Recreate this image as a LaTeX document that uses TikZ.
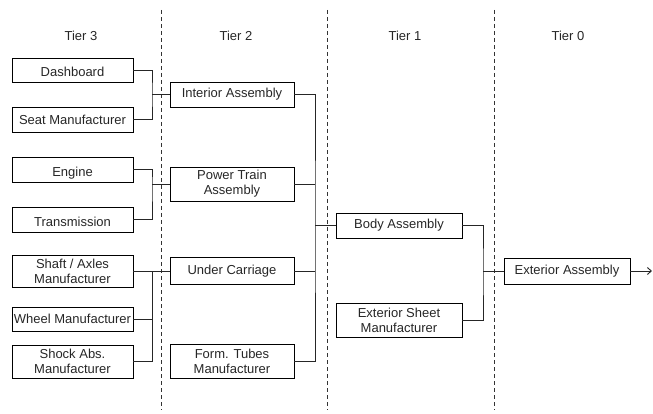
\documentclass[tikz,border=0pt]{standalone}
\usepackage{fontspec}
\setmainfont{Liberation Sans}
\usetikzlibrary{arrows.meta}
\tikzset{
  box/.style={draw=black, line width=0.9pt, rectangle, inner sep=0pt, align=center,
    font=\fontsize{13}{15}\selectfont, text=black!85},
  lowtext/.style={text height=14pt, text depth=0pt},
  tierlabel/.style={inner sep=0pt, font=\fontsize{13}{15}\selectfont, text=black!85},
  conn/.style={line width=0.9pt, draw=black!85},
  tierline/.style={line width=0.7pt, draw=black!80, dash pattern=on 4pt off 3pt}
}
\begin{document}
\begin{tikzpicture}[x=1pt,y=-1pt]
\useasboundingbox (0,0) rectangle (653,414);
% tier separators
\coordinate (d1t) at (161,10); \coordinate (d1b) at (161,410);
\coordinate (d2t) at (327,10); \coordinate (d2b) at (327,410);
\coordinate (d3t) at (494,10); \coordinate (d3b) at (494,410);
\draw[tierline] (d1t) -- (d1b);
\draw[tierline] (d2t) -- (d2b);
\draw[tierline] (d3t) -- (d3b);
% tier labels
\node[tierlabel] (t3) at (81,36) {Tier 3};
\node[tierlabel] (t2) at (236,36) {Tier 2};
\node[tierlabel] (t1) at (405,36) {Tier 1};
\node[tierlabel] (t0) at (568,36) {Tier 0};
% tier 3 boxes
\node[box, lowtext, minimum width=121pt, minimum height=24pt] (dash) at (72.5,70) {Dashboard};
\node[box, minimum width=121pt, minimum height=25pt] (seat) at (72.5,119.5) {Seat Manufacturer};
\node[box, lowtext, minimum width=121pt, minimum height=25pt] (eng) at (72.5,169.5) {Engine};
\node[box, lowtext, minimum width=121pt, minimum height=25pt] (trans) at (72.5,219.5) {Transmission};
\node[box, minimum width=121pt, minimum height=32pt] (shaft) at (72.5,271) {Shaft / Axles\\Manufacturer};
\node[box, minimum width=121pt, minimum height=24pt] (wheel) at (72.5,319) {Wheel Manufacturer};
\node[box, minimum width=121pt, minimum height=33pt] (shock) at (72.5,361.5) {Shock Abs.\\Manufacturer};
% tier 2 boxes
\node[box, minimum width=124pt, minimum height=25pt] (int) at (232,94.5) {Interior Assembly};
\node[box, minimum width=124pt, minimum height=34pt] (pt) at (232,184) {Power Train\\Assembly};
\node[box, minimum width=124pt, minimum height=27pt] (uc) at (232,271) {Under Carriage};
\node[box, minimum width=124pt, minimum height=34pt] (ft) at (232,361) {Form. Tubes\\Manufacturer};
% tier 1 boxes
\node[box, minimum width=126pt, minimum height=25pt] (body) at (399,225.5) {Body Assembly};
\node[box, minimum width=126pt, minimum height=34pt] (es) at (399,320) {Exterior Sheet\\Manufacturer};
% tier 0 box
\node[box, minimum width=126pt, minimum height=26pt] (ea) at (567,271) {Exterior Assembly};
% junctions
\coordinate (b1) at (152,94.5);
\coordinate (b2) at (152,184);
\coordinate (b3) at (152,271);
\coordinate (c4) at (315,225.5);
\coordinate (c5) at (483,271);
\coordinate (out) at (652,271);
% tier 3 -> tier 2
\draw[conn] (dash.east) -| (b1) |- (seat.east);
\draw[conn] (b1) -- (int.west);
\draw[conn] (eng.east) -| (b2) |- (trans.east);
\draw[conn] (b2) -- (pt.west);
\draw[conn] (shaft.east) -- (uc.west);
\draw[conn] (b3) |- (shock.east);
\draw[conn] (wheel.east) -- (wheel.east -| b3);
% tier 2 -> tier 1
\draw[conn] (int.east) -| (c4) |- (ft.east);
\draw[conn] (pt.east) -- (pt.east -| c4);
\draw[conn] (uc.east) -- (uc.east -| c4);
\draw[conn] (c4) -- (body.west);
% tier 1 -> tier 0
\draw[conn] (body.east) -| (c5) |- (es.east);
\draw[conn] (c5) -- (ea.west);
\draw[conn, -{Straight Barb[length=4pt,width=7pt]}] (ea.east) -- (out);
\end{tikzpicture}
\end{document}
